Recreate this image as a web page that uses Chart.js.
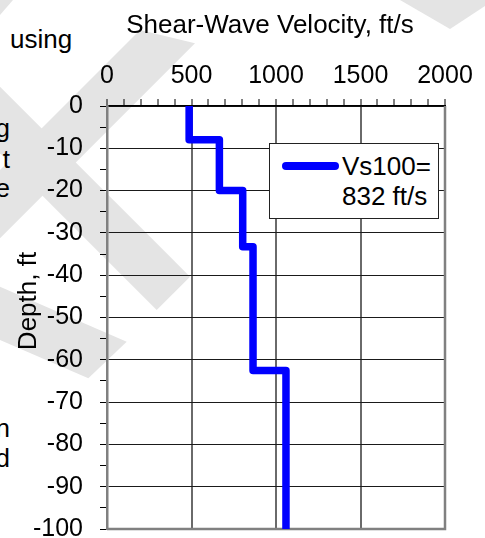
<!DOCTYPE html>
<html>
<head>
<meta charset="utf-8">
<script src="https://cdn.jsdelivr.net/npm/chart.js@4.4.1/dist/chart.umd.min.js"></script>
<style>
  html, body { margin: 0; padding: 0; background: #fff; }
  #wrap { position: relative; width: 485px; height: 538px; overflow: hidden;
          font-family: "Liberation Sans", Arial, sans-serif; color: #000; }
  #wm, #grafik { position: absolute; left: 0; top: 0; }
  .frag { position: absolute; font-size: 26px; line-height: 26px; white-space: nowrap; }
  .kanan { left: -200px; width: 210px; text-align: right; }
  #legenda { position: absolute; left: 269px; top: 143px; width: 168px; height: 74px;
             border: 1px solid #222; background: #fff; font-size: 26px; line-height: 26px; }
  #legenda .garis { position: absolute; left: 12px; top: 18px; width: 57px; height: 7.5px;
                    border-radius: 4px; background: #0000ff; }
  #legenda .teks { position: absolute; left: 72px; white-space: nowrap; }
</style>
</head>
<body>
<div id="wrap">
  <!-- watermark di belakang grafik -->
  <svg id="wm" width="485" height="538">
    <g fill="#e4e4e4">
      <polygon points="0,86.7 190,276.7 156.7,310 0,153.3"/>
      <polygon points="140,30 195,43.3 0,238.3 0,170"/>
      <polygon points="0,286.7 126.7,341.7 88.3,378.3 0,340"/>
      <polygon points="400,0 485,0 485,6 450,29"/>
      <polygon points="0,0 13,0 0,15"/>
    </g>
  </svg>

  <div class="frag" style="left:10px; top:26px;">using</div>
  <div class="frag kanan" style="top:115px;">g</div>
  <div class="frag kanan" style="top:145.5px;">t</div>
  <div class="frag kanan" style="top:175px;">e</div>
  <div class="frag kanan" style="top:414.5px;">n</div>
  <div class="frag kanan" style="top:444.5px;">d</div>

  <canvas id="grafik" width="485" height="538"></canvas>

  <div id="legenda">
    <div class="garis"></div>
    <div class="teks" id="leg1" style="top:9px;"></div>
    <div class="teks" id="leg2" style="top:39px;"></div>
  </div>
</div>

<script>
// batas lapisan (kedalaman, ft) dan Vs tiap lapisan (ft/s)
const batasKedalaman = [0, 8, 20, 33.3, 62.5, 100];
const vsLapisan = [486, 665, 803, 864, 1059];

const labelX = [0, 500, 1000, 1500, 2000];
const labelY = [0, -10, -20, -30, -40, -50, -60, -70, -80, -90, -100];

const judulX = "Shear-Wave Velocity, ft/s";
const judulY = "Depth, ft";
const teksLegenda = ["Vs100=", "832 ft/s"];

const FONT = '"Liberation Sans", Arial, sans-serif';

function buatProfil() {
    let titik = [];
    vsLapisan.forEach((vs, i) => {
        titik.push({ x: vs, y: -batasKedalaman[i] });
        titik.push({ x: vs, y: -batasKedalaman[i + 1] });
    });
    return titik;
}

// bingkai kanan & bawah plus judul sumbu
const bingkai = {
    id: "bingkai",
    beforeDatasetsDraw(chart) {
        const { ctx, chartArea: a } = chart;
        ctx.save();
        ctx.strokeStyle = "#808080";
        ctx.lineWidth = 2.5;
        ctx.beginPath();
        ctx.moveTo(a.right, a.top);
        ctx.lineTo(a.right, a.bottom);
        ctx.lineTo(a.left, a.bottom);
        ctx.stroke();
        ctx.restore();
    },
    afterDraw(chart) {
        const ctx = chart.ctx;
        ctx.save();
        ctx.fillStyle = "#000";
        ctx.font = "26px " + FONT;
        ctx.textAlign = "center";
        ctx.textBaseline = "alphabetic";
        ctx.fillText(judulX, 270, 32.5);
        ctx.translate(35.5, 301);
        ctx.rotate(-Math.PI / 2);
        ctx.fillText(judulY, 0, 0);
        ctx.restore();
    }
};

function buatGrafik() {
    const ctx = document.getElementById("grafik");

    new Chart(ctx, {
        type: "scatter",
        data: {
            datasets: [{
                label: teksLegenda.join(" "),
                data: buatProfil(),
                showLine: true,
                borderColor: "#0000ff",
                backgroundColor: "#0000ff",
                borderWidth: 7.5,
                borderJoinStyle: "round",
                pointRadius: 0,
                tension: 0
            }]
        },
        options: {
            responsive: false,
            animation: false,
            devicePixelRatio: 1,
            layout: { padding: { left: 0, top: 0, right: 40, bottom: 9 } },
            plugins: {
                legend: { display: false },
                tooltip: { enabled: false }
            },
            scales: {
                x: {
                    type: "linear",
                    position: "top",
                    min: 0,
                    max: 2000,
                    afterFit(s) { s.height = 106; s.paddingLeft = 0; s.paddingRight = 0; },
                    ticks: {
                        stepSize: 100,
                        autoSkip: false,
                        maxRotation: 0,
                        padding: 8,
                        color: "#000",
                        font: { family: FONT, size: 25 },
                        callback: v => labelX.includes(v) ? String(v) : ""
                    },
                    grid: {
                        color: c => labelX.includes(c.tick.value) ? "#6a6a6a" : "rgba(0,0,0,0)",
                        lineWidth: 2,
                        tickColor: "#000",
                        tickWidth: 1,
                        tickLength: 7
                    },
                    border: { color: "#000", width: 1.5 }
                },
                y: {
                    type: "linear",
                    min: -100,
                    max: 0,
                    afterFit(s) { s.width = 107; s.paddingTop = 0; s.paddingBottom = 0; },
                    ticks: {
                        stepSize: 5,
                        autoSkip: false,
                        padding: 17,
                        color: "#000",
                        font: { family: FONT, size: 25 },
                        callback: v => labelY.includes(v) ? String(v) : ""
                    },
                    grid: {
                        color: c => labelY.includes(c.tick.value) ? "#1a1a1a" : "rgba(0,0,0,0)",
                        lineWidth: 1,
                        tickColor: "#000",
                        tickWidth: 1,
                        tickLength: 7
                    },
                    border: { color: "#808080", width: 2.5 }
                }
            }
        },
        plugins: [bingkai]
    });

    document.getElementById("leg1").textContent = teksLegenda[0];
    document.getElementById("leg2").textContent = teksLegenda[1];
}

buatGrafik();
</script>
</body>
</html>
